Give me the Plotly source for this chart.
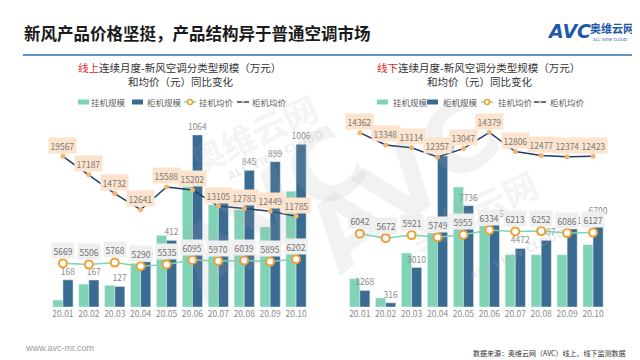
import plotly.graph_objects as go

# ---------------- data ----------------
months = ["20.01", "20.02", "20.03", "20.04", "20.05", "20.06", "20.07", "20.08", "20.09", "20.10"]

# online (线上)
on_hang_scale = [43, 142, 134, 270, 443, 746, 633, 602, 495, 716]
on_cab_scale = [168, 167, 127, 280, 412, 1064, 654, 845, 899, 1006]
on_hang_price = [5669, 5506, 5768, 5290, 5535, 6095, 5970, 6039, 5895, 6202]
on_cab_price = [19567, 17187, 14732, 12641, 15588, 15202, 13105, 12783, 12449, 11785]

# offline (线下)
off_hang_scale = [2160, 690, 4120, 5650, 9160, 6200, 3990, 3990, 3990, 4760]
off_cab_scale = [1268, 316, 3010, 11529, 7736, 6456, 4472, 5087, 5961, 6700]
off_hang_price = [6042, 5672, 5921, 5749, 5955, 6334, 6213, 6252, 6086, 6127]
off_cab_price = [14362, 13348, 13114, 12357, 13047, 14379, 12806, 12477, 12374, 12423]

series_names = ["挂机规模", "柜机规模", "挂机均价", "柜机均价"]

# ---------------- style ----------------
W, H = 640, 360
FONT = "Noto Sans CJK SC"
TEAL = "#7fd4b5"
DARK = "#3a6c92"
NAVY = "#1f3d68"
ORANGE = "#f0a030"
DOT = "#f3b56e"
GREY = "#8c8c8c"


def px(x, y):
    return x / W, 1 - y / H


fig = go.Figure()

charts = [
    dict(xa="x", ya="y", yp="y2", hang=on_hang_scale, cab=on_cab_scale,
         hp=on_hang_price, cp=on_cab_price),
    dict(xa="x2", ya="y3", yp="y4", hang=off_hang_scale, cab=off_cab_scale,
         hp=off_hang_price, cp=off_cab_price),
]

annotations = []

# watermarks (drawn first so labels are above)
for (cx, cy, ax, ay) in [(140, 205, 245, 125), (395, 290, 540, 255)]:
    x, y = px(cx, cy)
    annotations.append(dict(x=x, y=y, xref="paper", yref="paper", text="<b>AVC</b>",
                            showarrow=False, textangle=-38,
                            font=dict(family="DejaVu Sans", size=96, color="rgba(170,170,170,0.15)")))
    x, y = px(ax, ay)
    annotations.append(dict(x=x, y=y, xref="paper", yref="paper", text="<b>奥维云网</b>",
                            showarrow=False, textangle=-25,
                            font=dict(family=FONT, size=34, color="rgba(170,170,170,0.15)")))
    x, y = px(ax + 22, ay + 22)
    annotations.append(dict(x=x, y=y, xref="paper", yref="paper", text="<b>ALL VIEW CLOUD</b>",
                            showarrow=False, textangle=-25,
                            font=dict(family="DejaVu Sans", size=11, color="rgba(170,170,170,0.22)")))

for c in charts:
    fig.add_trace(go.Bar(x=months, y=c["hang"], name=series_names[0], marker_color=TEAL,
                         xaxis=c["xa"], yaxis=c["ya"], showlegend=False))
    fig.add_trace(go.Bar(x=months, y=c["cab"], name=series_names[1], marker_color=DARK,
                         xaxis=c["xa"], yaxis=c["ya"], showlegend=False,
                         text=[str(v) for v in c["cab"]], textposition="outside",
                         constraintext="none",
                         textfont=dict(family=FONT, size=8.5, color=GREY), cliponaxis=False))
    fig.add_trace(go.Scatter(x=months, y=c["hp"], name=series_names[2], mode="lines+markers",
                             line=dict(color=TEAL, width=1.5),
                             marker=dict(size=8, color="white", line=dict(color=ORANGE, width=2)),
                             xaxis=c["xa"], yaxis=c["yp"], showlegend=False, cliponaxis=False))
    fig.add_trace(go.Scatter(x=months, y=c["cp"], name=series_names[3], mode="lines+markers",
                             line=dict(color=NAVY, width=1.5),
                             marker=dict(size=5, color=DOT),
                             xaxis=c["xa"], yaxis=c["yp"], showlegend=False, cliponaxis=False))
    # annotations on a category axis are positioned by category index
    for i, v in enumerate(c["hp"]):
        annotations.append(dict(x=i, y=v, xref=c["xa"], yref=c["yp"], text=str(v), showarrow=False,
                                yshift=13, bgcolor="#efefef", borderpad=1.5,
                                font=dict(family=FONT, size=8.5, color="#707070")))
    for i, v in enumerate(c["cp"]):
        annotations.append(dict(x=i, y=v, xref=c["xa"], yref=c["yp"], text=str(v), showarrow=False,
                                yshift=11, bgcolor="#fce3cd", borderpad=1.5,
                                font=dict(family=FONT, size=8.5, color="#7a7a7a")))

# axes geometry: baseline at y=299 px, top at 110 px
y0, y1 = px(0, 299)[1], px(0, 110)[1]
axis_common = dict(showgrid=False, zeroline=False, showline=False, ticks="", tickangle=0,
                   range=[-0.5, len(months) - 0.5], type="category",
                   tickfont=dict(family=FONT, size=8.5, color=GREY), fixedrange=True)
yhidden = dict(showgrid=False, zeroline=False, showline=False, showticklabels=False, ticks="")

fig.update_layout(
    width=W, height=H, margin=dict(l=0, r=0, t=0, b=0),
    paper_bgcolor="white", plot_bgcolor="rgba(0,0,0,0)",
    barmode="group", bargap=0.22, bargroupgap=0,
    xaxis=dict(domain=[42 / W, 301 / W], anchor="y", **axis_common),
    xaxis2=dict(domain=[338.8 / W, 598 / W], anchor="y3", **axis_common),
    yaxis=dict(domain=[y0, y1], anchor="x", range=[0, 189 / 0.1617], **yhidden),
    yaxis2=dict(domain=[y0, y1], anchor="x", overlaying="y", range=[0, 189 / 0.0077], **yhidden),
    yaxis3=dict(domain=[y0, y1], anchor="x2", range=[0, 189 / 0.0131], **yhidden),
    yaxis4=dict(domain=[y0, y1], anchor="x2", overlaying="y3", range=[0, 189 / 0.01214], **yhidden),
    font=dict(family=FONT),
)

# ---------- title, logo, subtitles, legends, footer ----------
def txt(x, y, text, size, color, anchor="center", family=FONT, **kw):
    px_x, px_y = px(x, y)
    annotations.append(dict(x=px_x, y=px_y, xref="paper", yref="paper", text=text, showarrow=False,
                            xanchor=anchor, yanchor="middle",
                            font=dict(family=family, size=size, color=color), **kw))


txt(14, 25, "<b>新风产品价格坚挺，产品结构异于普通空调市场</b>", 16.5, "#1a1a1a", "left")
txt(537, 23, "<b><i>AVC</i></b>", 19, "#1d5aa6", "left", family="DejaVu Sans")
txt(580, 20, "<b>奥维云网</b>", 11, "#1d5aa6", "left")
txt(583, 31, "ALL VIEW CLOUD", 4, "#1d5aa6", "left", family="DejaVu Sans")

txt(171, 60, "<span style='color:#e0262a'>线上</span>连续月度-新风空调分类型规模（万元）", 10.5, "#333333")
txt(173, 74, "和均价（元）同比变化", 10.5, "#333333")
txt(470, 60, "<span style='color:#e0262a'>线下</span>连续月度-新风空调分类型规模（万元）", 10.5, "#333333")
txt(472, 74, "和均价（元）同比变化", 10.5, "#333333")

shapes = []
# header rule
shapes.append(dict(type="line", xref="paper", yref="paper", x0=px(15, 0)[0], x1=px(625, 0)[0],
                   y0=px(0, 47)[1], y1=px(0, 47)[1], line=dict(color="#2e6fb5", width=1.5)))


def legend(xs, ly=94):
    r1, t1, r2, t2, l3, t3, l4, t4 = xs
    for rx, col in [(r1, TEAL), (r2, DARK)]:
        shapes.append(dict(type="rect", xref="paper", yref="paper",
                           x0=px(rx, 0)[0], x1=px(rx + 11, 0)[0],
                           y0=px(0, ly + 2.5)[1], y1=px(0, ly - 2.5)[1],
                           fillcolor=col, line=dict(width=0)))
    for lx, col, mk in [(l3, TEAL, "ring"), (l4, NAVY, "dot")]:
        shapes.append(dict(type="line", xref="paper", yref="paper",
                           x0=px(lx, 0)[0], x1=px(lx + 12, 0)[0],
                           y0=px(0, ly)[1], y1=px(0, ly)[1], line=dict(color=col, width=1.5)))
        if mk == "ring":
            shapes.append(dict(type="circle", xref="paper", yref="paper",
                               x0=px(lx + 3.5, 0)[0], x1=px(lx + 8.5, 0)[0],
                               y0=px(0, ly + 2.5)[1], y1=px(0, ly - 2.5)[1],
                               fillcolor="white", line=dict(color=ORANGE, width=1.5)))
        else:
            shapes.append(dict(type="circle", xref="paper", yref="paper",
                               x0=px(lx + 4.5, 0)[0], x1=px(lx + 7.5, 0)[0],
                               y0=px(0, ly + 1.5)[1], y1=px(0, ly - 1.5)[1],
                               fillcolor=DOT, line=dict(width=0)))
    for tx, name in zip([t1, t2, t3, t4], series_names):
        txt(tx, ly, name, 8.5, "#606060", "left")


legend((70, 81, 124, 137, 176, 189, 229, 242))
legend((369, 383, 419, 433, 473, 488, 526, 540))

txt(15, 340, "www.avc-mr.com", 9, "#9a9a9a", "left", family="Liberation Sans")
txt(620, 345, "数据来源：奥维云网（AVC）线上、线下监测数据", 7, "#333333", "right")

fig.update_layout(annotations=annotations, shapes=shapes)
fig.write_html("out.html")
